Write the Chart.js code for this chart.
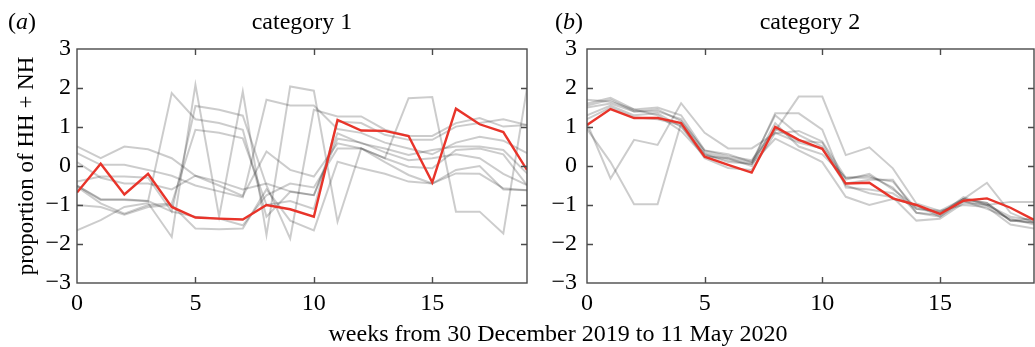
<!DOCTYPE html>
<html>
<head>
<meta charset="utf-8">
<script src="https://cdn.jsdelivr.net/npm/chart.js@4/dist/chart.umd.min.js"></script>
<style>
  html, body { margin: 0; padding: 0; background: #fff; }
  #wrap { position: relative; width: 1035px; height: 347px; overflow: hidden; background: #fff; }
  canvas { position: absolute; top: 0; }
  .txt { position: absolute; font-family: 'Liberation Serif', 'Times New Roman', serif; font-size: 24px; line-height: 1; color: #000; white-space: nowrap; }
  .ctr { transform: translateX(-50%); }
</style>
</head>
<body>
<div id="wrap">
  <canvas id="ca" width="540" height="347" style="left:0px;width:540px;height:347px"></canvas>
  <canvas id="cb" width="495" height="347" style="left:540px;width:495px;height:347px"></canvas>
  <div class="txt" style="left:8px;top:9px">(<i>a</i>)</div>
  <div class="txt ctr" style="left:302px;top:9px">category 1</div>
  <div class="txt" style="left:555px;top:9px">(<i>b</i>)</div>
  <div class="txt ctr" style="left:810px;top:9px">category 2</div>
  <div class="txt ctr" style="left:558px;top:321px">weeks from 30 December 2019 to 11 May 2020</div>
</div>
<script>
// ---- data ----
const weeks = [0,1,2,3,4,5,6,7,8,9,10,11,12,13,14,15,16,17,18,19];
const xTicks = [0,5,10,15];
const yTicks = [-3,-2,-1,0,1,2,3];

// panel (a) category 1
const redA = [-0.68,0.06,-0.73,-0.2,-1.05,-1.32,-1.35,-1.37,-1.0,-1.11,-1.3,1.18,0.91,0.9,0.77,-0.42,1.47,1.07,0.87,-0.1];
const greyA1 = [0.5,0.2,0.5,0.43,0.2,-0.25,-0.5,-0.77,0.37,-0.1,-0.27,0.58,0.45,0.1,-0.23,-0.45,-0.1,0.0,-0.6,-0.62];
const greyA2 = [0.33,0.03,0.03,-0.1,-0.25,-0.5,-0.65,-0.8,1.7,1.55,1.55,0.95,0.85,0.6,0.45,0.3,0.6,0.75,0.65,0.33];
const greyA3 = [-0.5,-0.85,-0.85,-0.9,1.87,1.2,1.1,0.93,-1.3,-0.66,-0.75,0.84,0.58,0.45,0.28,0.41,0.5,0.5,0.41,-0.19];
const greyA4 = [-1.65,-1.39,-1.05,-0.95,-1.82,2.08,-1.3,1.91,-1.77,2.04,1.93,-1.43,0.45,0.2,1.74,1.77,-1.17,-1.17,-1.73,2.0];
const greyA5 = [-0.4,-0.27,-0.27,-0.3,-1.17,1.54,1.44,1.29,-0.5,-1.86,1.44,1.27,1.27,0.93,0.77,0.77,1.1,1.23,1.01,1.05];
const greyA6 = [-0.53,-0.96,-1.22,-1.0,-0.96,0.93,0.85,0.71,-1.0,-0.9,-1.1,1.14,1.1,0.8,0.67,0.67,1.01,1.1,1.2,1.05];
const greyA7 = [-0.5,-0.87,-0.87,-0.9,-1.17,-1.3,-1.35,-1.52,-0.75,-0.45,-0.55,0.45,0.45,0.2,-0.02,-0.06,0.41,0.45,0.3,-0.49];
const greyA8 = [-1.0,-1.05,-1.25,-1.05,-1.0,-1.6,-1.62,-1.6,-0.6,-1.4,-1.65,0.11,-0.06,-0.2,-0.4,-0.45,-0.19,-0.2,-0.57,-0.62];
const greyA9 = [0.1,-0.3,-0.45,-0.45,-0.6,-0.25,-0.4,-0.6,-0.45,-0.65,-0.75,0.7,0.6,0.35,0.15,0.2,0.3,0.2,-0.2,-0.49];

// panel (b) category 2
const redB = [1.05,1.46,1.23,1.23,1.1,0.24,0.03,-0.17,1.0,0.67,0.44,-0.45,-0.43,-0.83,-1.0,-1.23,-0.89,-0.83,-1.07,-1.38];
const greyB1 = [1.1,-0.32,0.67,0.54,1.61,0.85,0.45,0.45,0.84,0.9,0.63,-0.3,-0.25,-0.55,-1.2,-1.3,-0.85,-0.43,-1.2,-1.45];
const greyB2 = [0.95,0.1,-0.98,-0.98,1.1,0.3,0.1,0.05,1.35,1.35,0.93,-0.55,-0.6,-0.7,-1.1,-1.2,-0.9,-1.0,-0.92,-0.92];
const greyB3 = [1.6,1.75,1.45,1.5,1.3,0.4,0.3,0.1,0.9,1.78,1.78,0.28,0.48,-0.06,-0.96,-1.15,-0.85,-0.95,-1.4,-1.45];
const greyB4 = [1.5,1.6,1.4,1.4,1.2,0.35,0.2,0.0,1.1,0.5,0.3,-0.3,-0.3,-0.4,-1.1,-1.15,-1.0,-1.05,-1.5,-1.6];
const greyB5 = [1.3,1.55,1.3,1.35,1.0,0.3,0.15,0.05,0.7,0.4,0.1,-0.79,-1.0,-0.85,-1.0,-1.3,-0.9,-1.1,-1.35,-1.5];
const greyB6 = [1.2,1.5,1.25,1.2,1.05,0.2,-0.05,-0.1,0.85,0.6,0.45,-0.5,-0.7,-0.8,-1.4,-1.35,-0.95,-1.0,-1.3,-1.4];
const greyB7 = [1.7,1.65,1.45,1.3,0.9,0.25,0.2,0.1,1.3,0.8,0.5,-0.35,-0.2,-0.6,-1.05,-1.2,-0.85,-0.95,-1.4,-1.45];
const greyB8 = [1.55,1.7,1.4,1.45,1.15,0.4,0.25,0.15,0.95,0.65,0.6,-0.45,-0.35,-0.35,-1.2,-1.25,-0.8,-1.0,-1.4,-1.35];

const greysA = [greyA1,greyA2,greyA3,greyA4,greyA5,greyA6,greyA7,greyA8,greyA9];
const greysB = [greyB1,greyB2,greyB3,greyB4,greyB5,greyB6,greyB7,greyB8];

// ---- styling / chart construction ----
const FONT = "'Liberation Serif', 'Times New Roman', serif";
const toPts = arr => arr.map((v, i) => ({ x: weeks[i], y: v }));
const minusFmt = v => (v < 0 ? '\u2212' + Math.abs(v) : String(v));

const frameTicks = {
  id: 'frameTicks',
  afterDatasetsDraw(chart) {
    const ctx = chart.ctx;
    const { left, right, top, bottom } = chart.chartArea;
    const xs = chart.scales.x, ys = chart.scales.y;
    const L = 6;
    ctx.save();
    ctx.strokeStyle = '#4a4a4a';
    ctx.lineWidth = 1.4;
    ctx.strokeRect(left, top, right - left, bottom - top);
    ctx.beginPath();
    xs.ticks.forEach(t => {
      if (t.value <= xs.min || t.value >= xs.max) return;
      const p = Math.round(xs.getPixelForValue(t.value)) + 0.5;
      ctx.moveTo(p, bottom); ctx.lineTo(p, bottom - L);
      ctx.moveTo(p, top); ctx.lineTo(p, top + L);
    });
    ys.ticks.forEach(t => {
      if (t.value <= ys.min || t.value >= ys.max) return;
      const p = Math.round(ys.getPixelForValue(t.value)) + 0.5;
      ctx.moveTo(left, p); ctx.lineTo(left + L, p);
      ctx.moveTo(right, p); ctx.lineTo(right - L, p);
    });
    ctx.stroke();
    ctx.restore();
  }
};

function makeChart(id, red, greys, yAxisWidth, padRight, tickPad, showYTitle) {
  const datasets = [{
    data: toPts(red), borderColor: 'rgb(232,52,42)', borderWidth: 2.4,
    pointRadius: 0, tension: 0, order: 0
  }];
  greys.forEach(g => datasets.push({
    data: toPts(g), borderColor: 'rgba(0,0,0,0.2)', borderWidth: 2,
    pointRadius: 0, tension: 0, order: 1
  }));
  return new Chart(document.getElementById(id), {
    type: 'line',
    data: { datasets },
    plugins: [frameTicks],
    options: {
      responsive: false,
      animation: false,
      devicePixelRatio: 1,
      layout: { padding: { top: 49, right: padRight, left: 0, bottom: 0 } },
      plugins: { legend: { display: false }, tooltip: { enabled: false }, title: { display: false } },
      scales: {
        x: {
          type: 'linear', min: 0, max: 19,
          afterBuildTicks: s => { s.ticks = xTicks.map(v => ({ value: v })); },
          afterFit: s => { s.height = 64; },
          grid: { display: false, drawTicks: false },
          border: { display: false },
          ticks: { color: '#000', padding: 6, maxRotation: 0, font: { family: FONT, size: 24 } }
        },
        y: {
          type: 'linear', min: -3, max: 3,
          afterBuildTicks: s => { s.ticks = yTicks.map(v => ({ value: v })); },
          afterFit: s => { s.width = yAxisWidth; },
          grid: { display: false, drawTicks: false },
          border: { display: false },
          ticks: { color: '#000', padding: tickPad, callback: minusFmt, font: { family: FONT, size: 24 } },
          title: {
            display: showYTitle, text: 'proportion of HH + NH', color: '#000',
            font: { family: FONT, size: 23 }, padding: { top: 13, bottom: 0 }
          }
        }
      }
    }
  });
}

makeChart('ca', redA, greysA, 77, 13, 6, true);
makeChart('cb', redB, greysB, 47, 1, 10, false);
</script>
</body>
</html>
